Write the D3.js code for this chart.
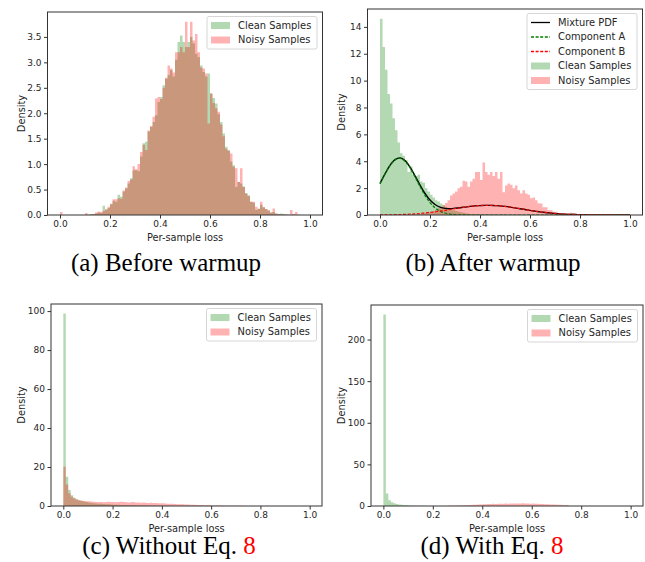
<!DOCTYPE html>
<html>
<head>
<meta charset="utf-8">
<script src="https://cdnjs.cloudflare.com/ajax/libs/d3/7.8.5/d3.min.js"></script>
<style>
  body { margin: 0; background: #fff; }
  svg { display: block; }
  .tick text { font-family: "DejaVu Sans", sans-serif; font-size: 9px; fill: #262626; }
  .axis-label { font-family: "DejaVu Sans", sans-serif; font-size: 9.8px; fill: #262626; }
  .legend text { font-family: "DejaVu Sans", sans-serif; font-size: 9.9px; fill: #262626; }
  .caption { font-family: "Liberation Serif", serif; font-size: 25px; fill: #000; }
</style>
</head>
<body>
<svg id="chart" width="645" height="562"></svg>
<script>
'use strict';

// every histogram: 100 bins of width 0.01 starting at loss 0
const binWidth = 0.01;

// (a) before warmup
const beforeClean = [
  0, 0, 0, 0, 0, 0, 0, 0, 0, 0,
  0, 0.01, 0.02, 0.02, 0.03, 0.05, 0.04, 0.18, 0.10, 0.14,
  0.21, 0.28, 0.26, 0.40, 0.36, 0.46, 0.52, 0.62, 0.72, 0.88,
  0.88, 0.86, 1.15, 1.41, 1.44, 1.64, 1.73, 1.83, 1.96, 2.22,
  2.32, 2.55, 2.68, 2.75, 2.85, 2.72, 3.05, 3.40, 3.53, 3.40,
  3.30, 3.40, 3.50, 3.37, 3.17, 3.10, 2.94, 2.81, 2.72, 2.78,
  2.39, 2.30, 2.19, 1.98, 1.83, 1.60, 1.34, 1.28, 1.05, 0.98,
  0.55, 0.65, 0.62, 0.56, 0.43, 0.39, 0.26, 0.24, 0.10, 0.13,
  0.20, 0.15, 0.12, 0.08, 0.05, 0.06, 0.03, 0.02, 0.03, 0.02,
  0.01, 0.01, 0, 0.01, 0
];
const beforeNoisy = [
  0.06, 0, 0, 0, 0, 0, 0, 0, 0, 0,
  0.04, 0, 0.01, 0.02, 0.05, 0.07, 0.06, 0.08, 0.12, 0.16,
  0.22, 0.31, 0.31, 0.33, 0.32, 0.48, 0.54, 0.67, 0.70, 0.96,
  0.90, 1.00, 1.24, 1.38, 1.28, 1.66, 1.75, 1.93, 2.29, 2.32,
  2.28, 2.50, 2.70, 2.94, 2.88, 2.80, 3.20, 3.20, 3.30, 3.20,
  3.80, 3.30, 3.80, 3.43, 3.56, 3.20, 2.90, 2.88, 2.78, 1.80,
  2.39, 2.20, 2.10, 2.03, 1.78, 1.55, 1.30, 1.26, 1.21, 0.95,
  0.92, 0.65, 0.92, 0.55, 0.42, 0.37, 0.26, 0.26, 0.16, 0.12,
  0.26, 0.15, 0.12, 0.10, 0.05, 0.13, 0.03, 0.02, 0.01, 0.01,
  0.01, 0, 0.10, 0.02, 0.06, 0.01, 0
];

// (b) after warmup
const afterClean = [
  14.6, 12.5, 10.8, 9.0, 8.3, 7.2, 6.3, 5.4, 4.6, 4.4,
  4.1, 3.2, 3.6, 3.0, 2.9, 3.0, 2.5, 2.4, 2.0, 1.75,
  1.5, 1.3, 1.1, 1.0, 0.85, 0.7, 0.6, 0.5, 0.42, 0.35,
  0.3, 0.25, 0.2, 0.16, 0.13, 0.1, 0.08, 0.07, 0.05, 0.05,
  0.04, 0.03, 0.03, 0.02, 0.02, 0.02, 0.01, 0.01, 0.01, 0.01,
  0
];
const afterNoisy = [
  0, 0, 0, 0, 0, 0, 0, 0, 0, 0,
  0, 0, 0.02, 0.03, 0.05, 0.06, 0.08, 0.10, 0.15, 0.20,
  0.25, 0.30, 0.40, 0.50, 0.60, 0.75, 0.90, 1.10, 1.45, 1.60,
  1.75, 2.00, 2.10, 2.55, 2.50, 2.10, 2.50, 2.70, 3.20, 3.20,
  2.60, 3.90, 3.20, 3.00, 3.20, 2.90, 3.20, 2.70, 3.20, 1.70,
  2.20, 2.35, 2.25, 2.00, 2.20, 1.85, 1.60, 1.85, 1.60, 1.50,
  1.25, 1.30, 1.10, 0.87, 0.85, 0.57, 0.58, 0.37, 0.36, 0.25,
  0.24, 0.12, 0.10, 0.08, 0.07, 0.10, 0.17, 0.15, 0.10, 0.06,
  0.04, 0.03, 0.03, 0.02, 0.02, 0.01, 0.01, 0.01, 0.01, 0.01,
  0.01, 0
];

// fitted two-component mixture
const pdfX = [
  0, 0.02, 0.04, 0.06, 0.08, 0.10, 0.12, 0.14, 0.16, 0.18,
  0.20, 0.22, 0.24, 0.26, 0.28, 0.30, 0.32, 0.34, 0.36, 0.38,
  0.40, 0.42, 0.44, 0.46, 0.48, 0.50, 0.52, 0.54, 0.56, 0.58,
  0.60, 0.62, 0.64, 0.66, 0.68, 0.70, 0.72, 0.74, 0.76, 0.78,
  0.80, 0.82, 0.84, 0.86, 0.88, 0.90, 0.92, 0.94, 0.96, 0.98, 1.00
];
const mixturePdf = [
  2.34, 3.06, 3.69, 4.12, 4.25, 4.05, 3.57, 2.92, 2.23, 1.60,
  1.11, 0.78, 0.58, 0.49, 0.47, 0.50, 0.54, 0.59, 0.64, 0.68,
  0.70, 0.72, 0.72, 0.70, 0.68, 0.64, 0.59, 0.53, 0.47, 0.41,
  0.34, 0.29, 0.23, 0.19, 0.15, 0.11, 0.084, 0.062, 0.045, 0.032,
  0.022, 0.015, 0.010, 0.006, 0.004, 0.003, 0.002, 0.001, 0.001, 0, 0
];
const componentA = [
  2.33, 3.05, 3.68, 4.10, 4.22, 4.00, 3.51, 2.83, 2.12, 1.46,
  0.93, 0.54, 0.29, 0.15, 0.07, 0.03, 0.01, 0.004, 0.001, 0,
  0, 0, 0, 0, 0, 0, 0, 0, 0, 0,
  0, 0, 0, 0, 0, 0, 0, 0, 0, 0,
  0, 0, 0, 0, 0, 0, 0, 0, 0, 0, 0
];
const componentB = [
  0.006, 0.010, 0.015, 0.022, 0.032, 0.045, 0.062, 0.084, 0.11, 0.15,
  0.19, 0.23, 0.29, 0.34, 0.41, 0.47, 0.53, 0.59, 0.64, 0.68,
  0.70, 0.72, 0.72, 0.70, 0.68, 0.64, 0.59, 0.53, 0.47, 0.41,
  0.34, 0.29, 0.23, 0.19, 0.15, 0.11, 0.084, 0.062, 0.045, 0.032,
  0.022, 0.015, 0.010, 0.006, 0.004, 0.003, 0.002, 0.001, 0.001, 0, 0
];

// (c) without Eq. 8
const withoutClean = [
  98.7, 15, 8.2, 5.5, 4.2, 3.5, 3.0, 2.6, 2.3, 2.0,
  1.8, 1.6, 1.45, 1.3, 1.2, 1.1, 1.0, 0.9, 0.85, 0.8,
  0.7, 0.65, 0.6, 0.55, 0.5, 0.45, 0.42, 0.38, 0.35, 0.32,
  0.3, 0.27, 0.25, 0.22, 0.2, 0.18, 0.16, 0.14, 0.12, 0.1,
  0.09, 0.08, 0.07, 0.06, 0.05, 0.04, 0.03, 0.03, 0.02, 0.02,
  0.01, 0
];
const withoutNoisy = [
  20.2, 11, 6.5, 4.8, 3.9, 3.3, 3.0, 2.8, 2.6, 2.5,
  2.4, 2.3, 2.2, 2.1, 2.05, 2.0, 1.9, 2.0, 2.2, 2.1,
  2.0, 1.9, 2.1, 2.2, 2.0, 1.9, 1.85, 1.9, 2.0, 1.8,
  1.75, 1.7, 1.8, 1.65, 1.6, 1.7, 1.55, 1.5, 1.45, 1.4,
  1.35, 1.3, 1.2, 1.15, 1.1, 1.0, 0.95, 0.9, 0.85, 0.8,
  0.75, 0.7, 0.65, 0.6, 0.55, 0.5, 0.45, 0.42, 0.38, 0.35,
  0.32, 0.28, 0.25, 0.22, 0.2, 0.18, 0.15, 0.13, 0.12, 0.1,
  0.09, 0.08, 0.07, 0.06, 0.05, 0.04, 0.04, 0.03, 0.03, 0.02,
  0.02, 0.01, 0.01, 0.01, 0.01, 0.01, 0
];

// (d) with Eq. 8
const withClean = [
  230, 15, 7, 4.5, 3.2, 2.4, 1.8, 1.4, 1.1, 0.9,
  0.7, 0.55, 0.45, 0.35, 0.28, 0.22, 0.17, 0.13, 0.1, 0.08,
  0.06, 0.05, 0.04, 0.03, 0.02, 0.02, 0.01, 0.01, 0.01, 0.01,
  0.01, 0
];
const withNoisy = [
  0, 0, 0, 0, 0, 0, 0, 0, 0, 0,
  0, 0, 0, 0, 0, 0, 0, 0, 0, 0,
  0, 0, 0, 0, 0, 0.1, 0.2, 0.3, 0.4, 0.5,
  0.6, 0.7, 0.9, 1.0, 1.2, 1.3, 1.5, 1.6, 1.8, 1.9,
  2.1, 2.2, 2.4, 2.3, 2.6, 2.5, 2.7, 2.8, 2.6, 2.9,
  2.8, 3.0, 2.9, 3.1, 2.9, 3.0, 3.2, 2.9, 3.0, 2.8,
  2.9, 2.7, 2.6, 2.5, 2.4, 2.2, 2.1, 1.9, 1.8, 1.7,
  1.5, 1.4, 1.3, 1.3, 1.2, 0
];

// tick labels
const xTicks = [0, 0.2, 0.4, 0.6, 0.8, 1.0];
const beforeYTicks = [0, 0.5, 1.0, 1.5, 2.0, 2.5, 3.0, 3.5];
const afterYTicks = [0, 2, 4, 6, 8, 10, 12, 14];
const withoutYTicks = [0, 20, 40, 60, 80, 100];
const withYTicks = [0, 50, 100, 150, 200];

const cleanFill = 'rgba(0,128,0,0.3)';
const noisyFill = 'rgba(255,0,0,0.3)';

const histLegend = [
  {label: 'Clean Samples', type: 'patch', color: cleanFill},
  {label: 'Noisy Samples', type: 'patch', color: noisyFill}
];
const pdfLegend = [
  {label: 'Mixture PDF', type: 'line', color: '#000', dash: null},
  {label: 'Component A', type: 'line', color: '#008000', dash: '3,1.6'},
  {label: 'Component B', type: 'line', color: '#ff0000', dash: '3,1.6'}
].concat(histLegend);

// frame of each axes in page pixels
const panels = [
  {key: 'a', box: {left: 47.5, right: 322.5, top: 12, bottom: 215}, clean: beforeClean, noisy: beforeNoisy,
   yTicks: beforeYTicks, yFmt: '.1f', labelX: 22, legend: histLegend, pdf: false,
   caption: {x: 166, y: 271, text: '(a) Before warmup', ref: null}},
  {key: 'b', box: {left: 367.5, right: 642.5, top: 9, bottom: 215}, clean: afterClean, noisy: afterNoisy,
   yTicks: afterYTicks, yFmt: 'd', labelX: 342, legend: pdfLegend, pdf: true,
   caption: {x: 493, y: 271, text: '(b) After warmup', ref: null}},
  {key: 'c', box: {left: 51, right: 322, top: 304, bottom: 506}, clean: withoutClean, noisy: withoutNoisy,
   yTicks: withoutYTicks, yFmt: 'd', labelX: 22, legend: histLegend, pdf: false,
   caption: {x: 169, y: 554, text: '(c) Without Eq. ', ref: '8'}},
  {key: 'd', box: {left: 371, right: 643, top: 305, bottom: 506}, clean: withClean, noisy: withNoisy,
   yTicks: withYTicks, yFmt: 'd', labelX: 342, legend: histLegend, pdf: false,
   caption: {x: 492, y: 554, text: '(d) With Eq. ', ref: '8'}}
];

const svg = d3.select('#chart');

// histogram values -> step points (left edge of each bin + closing edge)
const toSteps = vals => vals.map((v, i) => [i * binWidth, v])
  .concat([[vals.length * binWidth, vals[vals.length - 1]]]);

panels.forEach(p => {
  const b = p.box;
  const x = d3.scaleLinear().domain([-0.05, 1.05]).range([b.left, b.right]);
  const yMax = d3.max(p.clean.concat(p.noisy)) * 1.05;
  const y = d3.scaleLinear().domain([0, yMax]).range([b.bottom, b.top]);

  const g = svg.append('g').attr('class', 'panel-' + p.key);

  g.append('clipPath').attr('id', 'clip-' + p.key)
    .append('rect')
    .attr('x', b.left).attr('y', b.top)
    .attr('width', b.right - b.left).attr('height', b.bottom - b.top);

  const plot = g.append('g').attr('clip-path', `url(#clip-${p.key})`);

  // histograms
  const area = d3.area()
    .curve(d3.curveStepAfter)
    .x(d => x(d[0]))
    .y0(y(0))
    .y1(d => y(d[1]));
  plot.append('path').datum(toSteps(p.clean)).attr('fill', cleanFill).attr('d', area);
  plot.append('path').datum(toSteps(p.noisy)).attr('fill', noisyFill).attr('d', area);

  // mixture curves
  if (p.pdf) {
    const line = d3.line()
      .curve(d3.curveMonotoneX)
      .x((d, i) => x(pdfX[i]))
      .y(d => y(d));
    plot.append('path').datum(mixturePdf)
      .attr('fill', 'none').attr('stroke', '#000').attr('stroke-width', 1.4).attr('d', line);
    plot.append('path').datum(componentA)
      .attr('fill', 'none').attr('stroke', '#008000').attr('stroke-width', 1.2)
      .attr('stroke-dasharray', '3,1.6').attr('d', line);
    plot.append('path').datum(componentB)
      .attr('fill', 'none').attr('stroke', '#ff0000').attr('stroke-width', 1.2)
      .attr('stroke-dasharray', '3,1.6').attr('d', line);
  }

  // axes
  g.append('g')
    .attr('transform', `translate(0,${b.bottom})`)
    .style('color', '#333')
    .call(d3.axisBottom(x).tickValues(xTicks).tickFormat(d3.format('.1f'))
      .tickSize(3.5).tickPadding(2.5))
    .call(a => a.select('.domain').remove());

  g.append('g')
    .attr('transform', `translate(${b.left},0)`)
    .style('color', '#333')
    .call(d3.axisLeft(y).tickValues(p.yTicks).tickFormat(d3.format(p.yFmt))
      .tickSize(3.5).tickPadding(2.5))
    .call(a => a.select('.domain').remove());

  // frame
  g.append('rect')
    .attr('x', b.left).attr('y', b.top)
    .attr('width', b.right - b.left).attr('height', b.bottom - b.top)
    .attr('fill', 'none').attr('stroke', '#333').attr('stroke-width', 1);

  // axis labels
  g.append('text')
    .attr('class', 'axis-label')
    .attr('x', (b.left + b.right) / 2)
    .attr('y', b.bottom + 25.5)
    .attr('text-anchor', 'middle')
    .text('Per-sample loss');
  g.append('text')
    .attr('class', 'axis-label')
    .attr('transform', `translate(${p.labelX},${(b.top + b.bottom) / 2}) rotate(-90)`)
    .attr('dy', '0.35em')
    .attr('text-anchor', 'middle')
    .text('Density');

  // legend
  const rowH = 14.5;
  const lw = 110;
  const lh = 18 + rowH * (p.legend.length - 1);
  const lx = b.right - 5.5 - lw;
  const ly = b.top + 4.5;
  const leg = g.append('g').attr('class', 'legend');
  leg.append('rect')
    .attr('x', lx).attr('y', ly).attr('width', lw).attr('height', lh)
    .attr('rx', 2)
    .attr('fill', 'rgba(255,255,255,0.8)')
    .attr('stroke', '#cccccc').attr('stroke-width', 0.8);
  p.legend.forEach((item, i) => {
    const cy = ly + 9 + i * rowH;
    if (item.type === 'patch') {
      leg.append('rect')
        .attr('x', lx + 4).attr('y', cy - 3.5)
        .attr('width', 19).attr('height', 7)
        .attr('fill', item.color);
    } else {
      leg.append('line')
        .attr('x1', lx + 4).attr('x2', lx + 23)
        .attr('y1', cy).attr('y2', cy)
        .attr('stroke', item.color).attr('stroke-width', 1.3)
        .attr('stroke-dasharray', item.dash);
    }
    leg.append('text')
      .attr('x', lx + 31).attr('y', cy)
      .attr('dy', '0.35em')
      .text(item.label);
  });

  // sub-figure caption
  const cap = svg.append('text')
    .attr('class', 'caption')
    .attr('x', p.caption.x)
    .attr('y', p.caption.y)
    .attr('text-anchor', 'middle');
  cap.append('tspan').text(p.caption.text);
  if (p.caption.ref) {
    cap.append('tspan').attr('fill', '#ff0000').text(p.caption.ref);
  }
});
</script>
</body>
</html>
